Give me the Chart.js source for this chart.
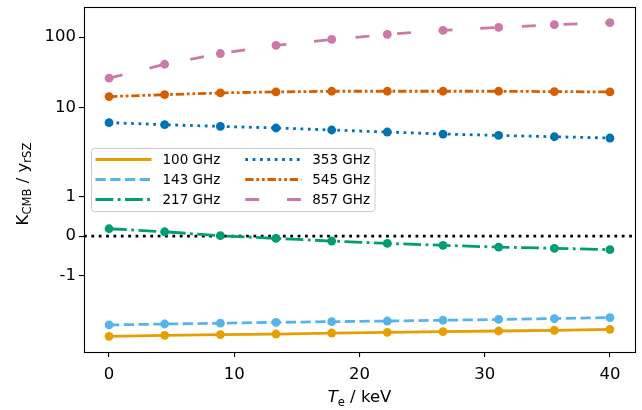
<!DOCTYPE html>
<html><head><meta charset="utf-8">
<script src="https://cdn.jsdelivr.net/npm/chart.js@4.4.1/dist/chart.umd.min.js"></script>
<style>html,body{margin:0;padding:0;background:#fff;} #wrap{width:642px;height:410px;}</style>
</head><body><div id="wrap"><canvas id="c" width="642" height="410"></canvas></div>
<script>
// ---- data ----
const temperatures = [0, 4.44, 8.89, 13.33, 17.78, 22.22, 26.67, 31.11, 35.56, 40];
const series100 = [-4.03, -3.90, -3.81, -3.74, -3.62, -3.54, -3.46, -3.39, -3.31, -3.21];
const series143 = [-2.785, -2.70, -2.63, -2.56, -2.50, -2.45, -2.39, -2.33, -2.26, -2.19];
const series217 = [0.187, 0.11, 0.01, -0.06, -0.125, -0.185, -0.235, -0.28, -0.31, -0.345];
const series353 = [6.2, 5.80, 5.49, 5.21, 4.88, 4.57, 4.28, 4.09, 3.92, 3.76];
const series545 = [14.46, 15.4, 16.3, 16.85, 17.2, 17.2, 17.2, 17.2, 17.0, 16.85];
const series857 = [26.3, 41.4, 58.7, 76.3, 92.8, 109.2, 124.4, 137.2, 149.8, 160.0];
const seriesLabels = ['100 GHz', '143 GHz', '217 GHz', '353 GHz', '545 GHz', '857 GHz'];
const xTickValues = [0, 10, 20, 30, 40];
const yTickValues = [-1, 0, 1, 10, 100];

// ---- styles ----
const FONT = '"DejaVu Sans", "Liberation Sans", sans-serif';
const LW = 2.78;
const colors = ['#E69F00', '#56B4E9', '#009E73', '#0072B2', '#D55E00', '#CC79A7'];
const dashPatterns = [
  [],
  [3.7, 1.6],
  [6.4, 1.6, 1, 1.6],
  [1, 1.65],
  [3, 1, 1, 1, 1, 1],
  [5, 10]
].map(p => p.map(v => v * LW));

// ---- symlog scale (matplotlib-like, linthresh=2, linscale=1) ----
const LINTHRESH = 2, LINSCALE = 1, BASE = 10;
const LINADJ = LINSCALE / (1 - 1 / BASE);
function symT(v) {
  const a = Math.abs(v);
  if (a <= LINTHRESH) return v * LINADJ;
  return Math.sign(v) * LINTHRESH * (LINADJ + Math.log10(a / LINTHRESH));
}
function symInv(t) {
  const a = Math.abs(t);
  if (a <= LINTHRESH * LINADJ) return t / LINADJ;
  return Math.sign(t) * LINTHRESH * Math.pow(10, a / LINTHRESH - LINADJ);
}
class SymlogScale extends Chart.Scale {
  static id = 'symlog';
  static defaults = {};
  parse(raw) { const v = +raw; return isFinite(v) ? v : null; }
  determineDataLimits() {
    const { min, max } = this.getMinMax(false);
    const t0 = symT(min), t1 = symT(max), m = (t1 - t0) * 0.05;
    this.min = symInv(t0 - m);
    this.max = symInv(t1 + m);
  }
  buildTicks() { return yTickValues.map(v => ({ value: v })); }
  configure() {
    super.configure();
    this._t0 = symT(this.min);
    this._t1 = symT(this.max);
  }
  getLabelForValue(v) { return String(v); }
  getPixelForValue(v) { return this.getPixelForDecimal((symT(v) - this._t0) / (this._t1 - this._t0)); }
  getValueForPixel(p) { return symInv(this._t0 + this.getDecimalForPixel(p) * (this._t1 - this._t0)); }
}
Chart.register(SymlogScale);

const allSeries = [series100, series143, series217, series353, series545, series857];
const datasets = allSeries.map((vals, i) => ({
  label: seriesLabels[i],
  data: temperatures.map((t, j) => ({ x: t, y: vals[j] })),
  borderColor: colors[i],
  backgroundColor: colors[i],
  borderWidth: LW,
  borderDash: dashPatterns[i],
  pointRadius: 4.4,
  pointBorderWidth: 0,
  pointBackgroundColor: colors[i],
  tension: 0,
  fill: false,
  order: allSeries.length - i
}));

function drawRich(ctx, parts, x, y) {
  let cx = x;
  for (const [txt, size, style, dy] of parts) {
    ctx.font = `${style} ${size}px ${FONT}`;
    ctx.fillText(txt, cx, y + dy);
    cx += ctx.measureText(txt).width;
  }
  return cx - x;
}
function richWidth(ctx, parts) {
  let w = 0;
  for (const [txt, size, style] of parts) { ctx.font = `${style} ${size}px ${FONT}`; w += ctx.measureText(txt).width; }
  return w;
}

const decor = {
  id: 'decor',
  beforeDatasetsDraw(chart) {
    const { ctx, chartArea: a, scales } = chart;
    const y0 = scales.y.getPixelForValue(0);
    ctx.save();
    ctx.strokeStyle = '#000';
    ctx.lineWidth = LW;
    ctx.setLineDash([1 * LW, 1.65 * LW]);
    ctx.beginPath(); ctx.moveTo(a.left, y0); ctx.lineTo(a.right, y0); ctx.stroke();
    ctx.restore();
  },
  afterDraw(chart) {
    const { ctx, chartArea: a } = chart;
    ctx.save();
    // frame
    ctx.strokeStyle = '#000'; ctx.lineWidth = 1.1; ctx.setLineDash([]);
    ctx.strokeRect(Math.round(a.left) + 0.5, Math.round(a.top) + 0.5, Math.round(a.right - a.left), Math.round(a.bottom - a.top));

    // legend
    const fs = 13.5;
    ctx.font = `${fs}px ${FONT}`;
    const tw = seriesLabels.map(s => ctx.measureText(s).width);
    const col1W = Math.max(tw[0], tw[1], tw[2]);
    const col2W = Math.max(tw[3], tw[4], tw[5]);
    const handleLen = 56, pad = 4.5, textPad = 11, colSpace = 25, rowH = 20;
    const boxL = a.left + 7;
    const boxW = pad + handleLen + textPad + col1W + colSpace + handleLen + textPad + col2W + pad;
    const boxH = 3 * rowH + 3;
    const cy = (a.top + a.bottom) / 2;
    const boxT = cy - boxH / 2;
    ctx.beginPath();
    ctx.roundRect(boxL + 0.5, boxT + 0.5, boxW, boxH, 3);
    ctx.fillStyle = 'rgba(255,255,255,0.8)'; ctx.fill();
    ctx.strokeStyle = '#cccccc'; ctx.lineWidth = 1; ctx.stroke();
    for (let i = 0; i < 6; i++) {
      const col = Math.floor(i / 3), row = i % 3;
      const hx = boxL + pad + (col ? handleLen + textPad + col1W + colSpace : 0);
      const ry = cy + (row - 1) * rowH;
      ctx.strokeStyle = colors[i]; ctx.lineWidth = LW; ctx.setLineDash(dashPatterns[i]);
      ctx.beginPath(); ctx.moveTo(hx, ry); ctx.lineTo(hx + handleLen, ry); ctx.stroke();
      ctx.setLineDash([]);
      ctx.fillStyle = '#000'; ctx.textBaseline = 'middle'; ctx.textAlign = 'left';
      ctx.font = `${fs}px ${FONT}`;
      ctx.fillText(seriesLabels[i], hx + handleLen + textPad, ry + 0.5);
    }

    // axis titles
    const bs = 16.5, ss = 11.6;
    ctx.fillStyle = '#000'; ctx.textBaseline = 'alphabetic'; ctx.textAlign = 'left';
    const xParts = [['T', bs, 'italic', 0], ['e', ss, 'normal', 3.6], [' / keV', bs, 'normal', 0]];
    const xw = richWidth(ctx, xParts);
    drawRich(ctx, xParts, (a.left + a.right) / 2 - xw / 2, 402);
    const yParts = [['K', bs, 'normal', 0], ['CMB', ss, 'normal', 3.5], [' / y', bs, 'normal', 0], ['rSZ', ss, 'normal', 3.5]];
    const yw = richWidth(ctx, yParts);
    ctx.translate(27.5, (a.top + a.bottom) / 2 + 4.5);
    ctx.rotate(-Math.PI / 2);
    drawRich(ctx, yParts, -yw / 2, 0);
    ctx.restore();
  }
};

new Chart(document.getElementById('c'), {
  type: 'line',
  data: { datasets },
  options: {
    responsive: false,
    animation: false,
    devicePixelRatio: 1,
    layout: { padding: { left: 0, top: 7, right: 7, bottom: 0 } },
    plugins: { legend: { display: false }, tooltip: { enabled: false } },
    scales: {
      x: {
        type: 'linear', min: -2, max: 42,
        afterBuildTicks: s => { s.ticks = xTickValues.map(v => ({ value: v })); },
        afterFit: s => { s.height = 58; s.paddingLeft = 0; s.paddingRight = 0; },
        grid: { display: true, drawOnChartArea: false, drawTicks: true, tickLength: 5, color: '#000', lineWidth: 1.1 },
        border: { display: false },
        ticks: { color: '#000', font: { family: FONT, size: 16.5 }, padding: 8, maxRotation: 0, autoSkip: false }
      },
      y: {
        type: 'symlog',
        afterFit: s => { s.width = 84; s.paddingTop = 0; s.paddingBottom = 0; },
        grid: { display: true, drawOnChartArea: false, drawTicks: true, tickLength: 5, color: '#000', lineWidth: 1.1 },
        border: { display: false },
        ticks: { color: '#000', font: { family: FONT, size: 16.5 }, padding: 3, autoSkip: false }
      }
    }
  },
  plugins: [decor]
});
</script>
</body></html>
